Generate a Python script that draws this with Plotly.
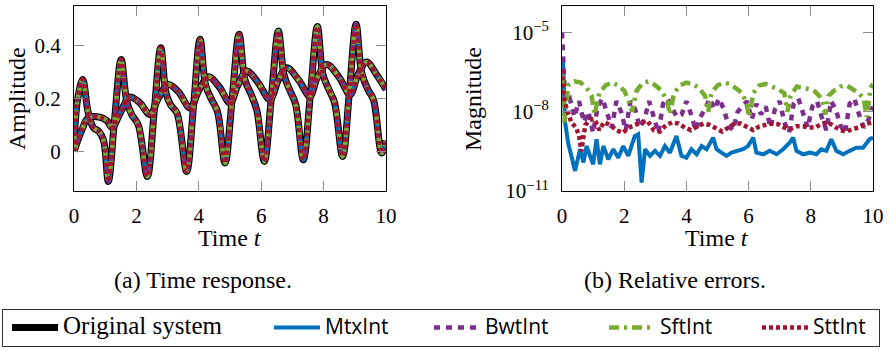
import plotly.graph_objects as go

# ---------------- data ----------------
# (a) time response: fast oscillating output and slow output
t_fast = [0, 0.12, 0.28, 0.45, 0.62, 0.8, 0.95, 1.10, 1.30, 1.51, 1.69, 1.85, 2.06, 2.35, 2.57,
          2.78, 2.95, 3.10, 3.30, 3.61, 3.83, 4.04, 4.22, 4.41, 4.60, 4.84, 5.07, 5.29, 5.48,
          5.68, 5.86, 6.10, 6.33, 6.55, 6.73, 6.92, 7.10, 7.35, 7.58, 7.80, 7.98, 8.17, 8.35,
          8.61, 8.83, 9.04, 9.22, 9.42, 9.60, 9.86, 10.0]
y_fast = [0.03, 0.20, 0.272, 0.15, 0.09, 0.075, 0.04, -0.114, 0.12, 0.348, 0.19, 0.139, 0.10,
          -0.095, 0.15, 0.392, 0.22, 0.175, 0.145, -0.076, 0.17, 0.424, 0.25, 0.196, 0.15,
          -0.044, 0.20, 0.443, 0.27, 0.215, 0.155, -0.038, 0.21, 0.455, 0.29, 0.23, 0.18,
          -0.032, 0.22, 0.472, 0.29, 0.234, 0.185, -0.019, 0.23, 0.481, 0.298, 0.234, 0.195,
          -0.006, 0.04]
t_slow = [0, 0.25, 0.45, 0.8, 1.05, 1.22, 1.5, 1.78, 2.1, 2.44, 2.7, 3.02, 3.35, 3.72, 4.0,
          4.31, 4.65, 5.0, 5.25, 5.53, 5.9, 6.28, 6.55, 6.82, 7.2, 7.56, 7.8, 8.1, 8.5, 8.85,
          9.1, 9.38, 9.7, 10.0]
y_slow = [0.0, 0.08, 0.127, 0.13, 0.117, 0.09, 0.15, 0.205, 0.185, 0.139, 0.2, 0.253, 0.225,
          0.164, 0.23, 0.282, 0.245, 0.183, 0.25, 0.304, 0.26, 0.196, 0.27, 0.316, 0.27, 0.209,
          0.28, 0.329, 0.28, 0.215, 0.29, 0.338, 0.29, 0.234]

# (b) relative errors, given as log10 of the magnitude
t_mtx = [0, 0.03, 0.1, 0.2, 0.3, 0.42, 0.58, 0.69, 0.79, 1.0, 1.11, 1.22, 1.33, 1.49, 1.65,
         1.81, 1.97, 2.13, 2.34, 2.45, 2.56, 2.67, 2.83, 2.99, 3.15, 3.31, 3.47, 3.68, 3.84,
         4.0, 4.16, 4.33, 4.49, 4.65, 4.86, 4.97, 5.13, 5.29, 5.45, 5.61, 5.82, 5.98, 6.15,
         6.25, 6.47, 6.68, 6.90, 7.11, 7.32, 7.43, 7.54, 7.75, 7.97, 8.18, 8.34, 8.50, 8.66,
         8.82, 9.04, 9.25, 9.46, 9.68, 9.89, 10.0]
log_mtx = [-6.4, -6.0, -8.4, -9.2, -9.67, -10.24, -9.42, -9.92, -9.3, -9.99, -9.04, -9.99,
           -9.3, -9.8, -9.42, -9.74, -9.3, -9.67, -8.92, -8.85, -10.68, -9.42, -9.67, -9.48,
           -9.67, -9.3, -9.55, -8.92, -9.67, -9.74, -9.42, -9.61, -9.3, -9.42, -8.98, -9.42,
           -9.55, -9.67, -9.55, -9.48, -9.42, -9.3, -8.98, -9.55, -9.61, -9.48, -9.61, -9.42,
           -9.17, -8.98, -9.48, -9.61, -9.55, -9.61, -9.42, -9.48, -9.04, -9.48, -9.61, -9.48,
           -9.36, -9.36, -9.04, -8.98]

t_bwt = [0, 0.03, 0.08, 0.15, 0.25, 0.4, 0.55, 0.7, 0.85, 1.0, 1.15, 1.3, 1.45, 1.6, 1.75,
         1.9, 2.05, 2.2, 2.35, 2.5, 2.65, 2.8, 2.95, 3.1, 3.25, 3.4, 3.55, 3.7, 3.85, 4.0,
         4.15, 4.3, 4.45, 4.6, 4.75, 4.9, 5.05, 5.2, 5.35, 5.5, 5.65, 5.8, 5.95, 6.1, 6.25,
         6.4, 6.55, 6.7, 6.85, 7.0, 7.15, 7.3, 7.45, 7.6, 7.75, 7.9, 8.05, 8.2, 8.35, 8.5,
         8.65, 8.8, 8.95, 9.1, 9.25, 9.4, 9.55, 9.7, 9.85, 10.0]
log_bwt = [-5.0, -5.9, -7.0, -7.6, -7.5,
           -8.2, -7.6, -8.4, -8.0, -8.8,
           -7.8, -7.5, -8.1, -8.6, -7.6,
           -8.0, -8.7, -7.6, -7.9, -8.6,
           -8.3, -7.6, -8.2, -8.8, -7.7,
           -7.5, -7.9, -8.2, -8.1, -7.6,
           -8.1, -8.7, -8.2, -7.9, -7.5,
           -7.9, -7.5, -7.9, -8.5, -8.7,
           -8.0, -7.8, -7.6, -8.3, -7.7,
           -8.1, -7.8, -8.6, -7.9, -7.6,
           -8.4, -8.8, -7.7, -7.5, -8.0,
           -8.6, -7.8, -7.6, -8.2, -8.7,
           -7.6, -7.9, -8.5, -8.8, -7.7,
           -7.5, -8.1, -8.6, -8.3, -7.8]

t_sft = [0, 0.03, 0.08, 0.2, 0.4, 0.6, 0.8, 0.95, 1.05, 1.2, 1.4, 1.6, 1.8, 2.0, 2.15, 2.25,
         2.4, 2.6, 2.8, 3.0, 3.2, 3.38, 3.47, 3.6, 3.8, 4.0, 4.2, 4.4, 4.6, 4.7, 4.8, 5.0, 5.2,
         5.4, 5.6, 5.8, 5.93, 6.02, 6.15, 6.35, 6.55, 6.75, 6.95, 7.15, 7.25, 7.35, 7.55, 7.75,
         7.95, 8.15, 8.35, 8.47, 8.57, 8.75, 8.95, 9.15, 9.35, 9.55, 9.7, 9.8, 9.92, 10.0]
log_sft = [-6.6, -7.6, -8.4, -7.0, -6.85, -6.9, -7.1, -7.4, -8.1, -7.3, -7.0, -6.9, -7.0, -7.2,
           -7.6, -8.0, -7.2, -6.9, -6.85, -7.0, -7.2, -7.6, -8.1, -7.3, -7.0, -6.9, -6.95, -7.1,
           -7.4, -8.0, -7.3, -7.0, -6.9, -6.95, -7.1, -7.3, -7.7, -8.2, -7.3, -7.0, -6.95,
           -7.05, -7.15, -7.3, -8.0, -7.4, -7.05, -7.1, -7.15, -7.25, -7.5, -8.1, -7.4, -7.2,
           -7.05, -7.0, -7.15, -7.3, -7.5, -8.2, -7.1, -6.95]

t_stt = [0, 0.05, 0.15, 0.3, 0.45, 0.55, 0.62, 0.75, 0.9, 1.05, 1.2, 1.35, 1.55, 1.75, 1.95,
         2.15, 2.35, 2.55, 2.75, 2.95, 3.15, 3.35, 3.55, 3.75, 3.95, 4.15, 4.35, 4.55, 4.75,
         4.95, 5.15, 5.35, 5.55, 5.75, 5.95, 6.15, 6.35, 6.55, 6.75, 6.95, 7.15, 7.35, 7.55,
         7.75, 7.95, 8.15, 8.35, 8.55, 8.75, 8.95, 9.15, 9.35, 9.55, 9.75, 9.95, 10.0]
log_stt = [-6.4, -7.4, -7.9, -8.4, -8.6, -8.9, -9.5, -8.5, -8.3, -8.28, -8.7, -8.4, -8.5, -8.7,
           -8.8, -8.6, -8.5, -8.4, -8.35, -8.7, -8.75, -8.5, -8.4, -8.45, -8.6, -8.7, -8.55,
           -8.45, -8.5, -8.65, -8.75, -8.6, -8.45, -8.45, -8.6, -8.7, -8.55, -8.5, -8.45,
           -8.47, -8.6, -8.65, -8.55, -8.55, -8.6, -8.6, -8.45, -8.4, -8.55, -8.7, -8.75,
           -8.65, -8.6, -8.47, -8.41, -8.4]

x_ticks = [0, 2, 4, 6, 8, 10]
amp_ticks = [0, 0.2, 0.4]
mag_tick_exponents = [-11, -8, -5]

# ---------------- styling ----------------
SERIF = "Liberation Serif"
SANS = "Open Sans"
FS_TICK = 21
FS_TEXT = 24
BLUE, PURPLE, GREEN, RED = "#0072BD", "#7E2F8E", "#77AC30", "#A2142F"
W_BLACK, W_COL = 7, 4.5

methods = [
    ("MtxInt", BLUE, "solid", t_mtx, log_mtx),
    ("BwtInt", PURPLE, "6px,6px", t_bwt, log_bwt),
    ("SftInt", GREEN, "10px,5px,3px,5px", t_sft, log_sft),
    ("SttInt", RED, "4px,3px", t_stt, log_stt),
]
legend_widths = {"Original system": 197, "MtxInt": 95, "BwtInt": 110, "SftInt": 88, "SttInt": 61}

fig = go.Figure()

# left panel: original system (black) under the four approximations
for i, (tt, yy) in enumerate([(t_fast, y_fast), (t_slow, y_slow)]):
    fig.add_trace(go.Scatter(
        x=tt, y=yy, mode="lines", line=dict(color="black", width=W_BLACK, shape="spline"),
        name=f'<span style="font-family:{SERIF};font-size:25px">Original system</span>',
        legendgroup="orig", showlegend=(i == 0), legendwidth=legend_widths["Original system"],
        xaxis="x", yaxis="y"))
for name, col, dash, _, _ in methods:
    for tt, yy in [(t_fast, y_fast), (t_slow, y_slow)]:
        fig.add_trace(go.Scatter(
            x=tt, y=yy, mode="lines",
            line=dict(color=col, width=W_COL, dash=dash, shape="spline"),
            showlegend=False, legendgroup=name, xaxis="x", yaxis="y"))

# right panel: relative errors
for name, col, dash, tt, ll in methods:
    fig.add_trace(go.Scatter(
        x=tt, y=[10 ** v for v in ll], mode="lines",
        line=dict(color=col, width=W_COL if name != "MtxInt" else 4, dash=dash),
        name=f'<span style="font-family:{SANS};font-size:21px">{name}</span>',
        legendgroup=name, showlegend=True, legendwidth=legend_widths[name],
        xaxis="x2", yaxis="y2"))

W, H = 889, 351
def px_x(p):
    return p / W
def px_y(p):
    return (H - p) / H

axis_common = dict(
    showline=True, linecolor="black", linewidth=1, mirror="ticks",
    ticks="inside", ticklen=10, tickcolor="#8c8c8c", tickwidth=1,
    showgrid=False, zeroline=False, automargin=False,
    tickfont=dict(family=SERIF, size=FS_TICK, color="black"),
)

def label(text, x, y, angle=0):
    return dict(text=text, x=px_x(x), y=px_y(y), xref="paper", yref="paper",
                xanchor="center", yanchor="middle", textangle=angle, showarrow=False,
                font=dict(family=SERIF, size=FS_TEXT, color="black"))

fig.update_layout(
    width=W, height=H,
    margin=dict(l=0, r=0, t=0, b=0, pad=0, autoexpand=False),
    paper_bgcolor="white", plot_bgcolor="white",
    font=dict(family=SERIF, size=FS_TICK, color="black"),
    xaxis=dict(domain=[px_x(74), px_x(386)], range=[0, 10], tickvals=x_ticks,
               anchor="y", ticklabelstandoff=6, **axis_common),
    yaxis=dict(domain=[px_y(191), px_y(6)], range=[-0.15, 0.55], tickvals=amp_ticks,
               ticktext=["0", "0.2", "0.4"], anchor="x", ticklabelstandoff=8, **axis_common),
    xaxis2=dict(domain=[px_x(562), px_x(873)], range=[0, 10], tickvals=x_ticks,
                anchor="y2", ticklabelstandoff=6, **axis_common),
    yaxis2=dict(domain=[px_y(191), px_y(6)], type="log", range=[-11, -4],
                tickvals=[10 ** e for e in mag_tick_exponents],
                ticktext=[f"10<sup>\u2212{-e}</sup>" for e in mag_tick_exponents],
                anchor="x2", ticklabelstandoff=8, **axis_common),
    legend=dict(orientation="h", x=px_x(2), xanchor="left", y=px_y(309), yanchor="top",
                bordercolor="#333", borderwidth=1, bgcolor="white", indentation=4,
                font=dict(family=SERIF, size=17, color="black"),
                itemwidth=46, traceorder="normal", itemclick=False),
    annotations=[
        label("Amplitude", 17, 99, -90),
        label("Magnitude", 473, 99, -90),
        label("Time <i>t</i>", 230, 238),
        label("Time <i>t</i>", 717, 238),
        label("(a) Time response.", 203, 280),
        label("(b) Relative errors.", 675, 280),
    ],
)

fig.write_html("out.html")
